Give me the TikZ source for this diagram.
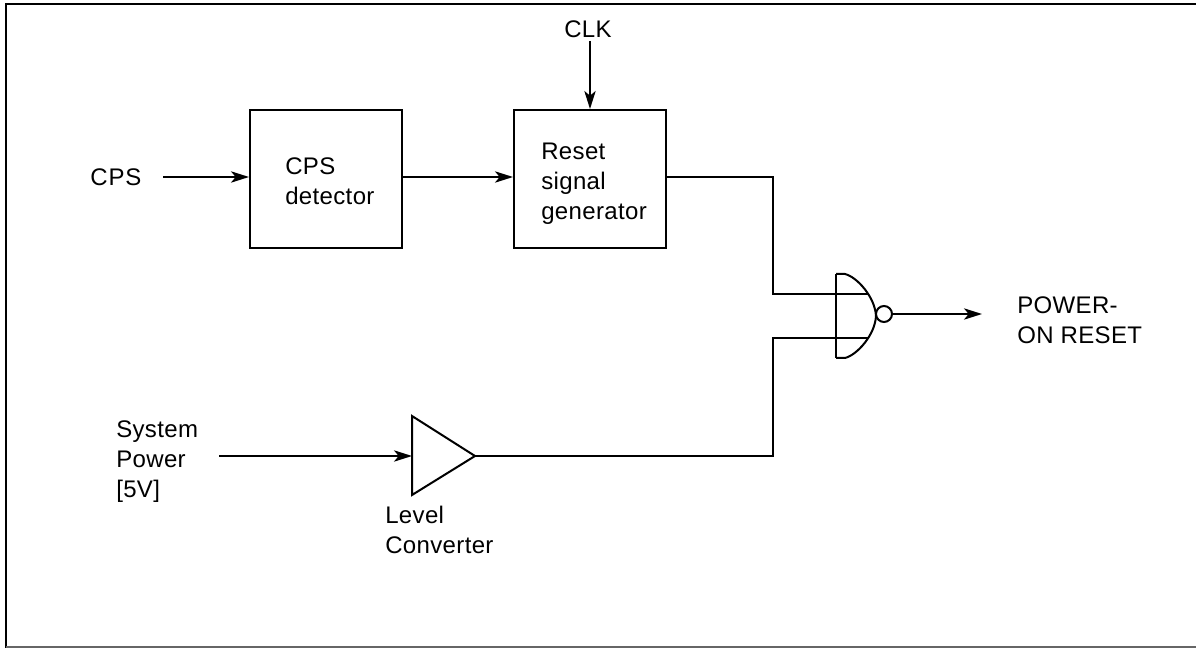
\documentclass[tikz,border=0pt]{standalone}
\usepackage{fontspec}
\setmainfont[LetterSpace=1.5]{Liberation Sans}
\usetikzlibrary{arrows.meta}
\tikzset{
  px/.style={x=0.75pt,y=-0.75pt},
  wire/.style={line width=1.5pt,line join=miter},
  sig/.style={wire,-{Stealth[length=13.5pt,width=8.5pt,inset=3.5pt]}},
  blockbox/.style={draw,line width=1.5pt,rectangle,inner sep=0pt},
  lbl/.style={inner sep=0pt,font=\fontsize{18}{22.5}\selectfont,align=left},
}
\begin{document}
\begin{tikzpicture}[px]
\useasboundingbox (0,0) rectangle (1196,648);
\fill[white] (0,0) rectangle (1196,648);
\draw[line width=1.5pt] (1196,4) -- (6,4) -- (6,648);
\draw[line width=1.2pt,black!60] (6,647) -- (1196,647);
% blocks
\node[blockbox,anchor=north west,minimum width=114pt,minimum height=103.5pt] (det) at (249,109) {};
\node[blockbox,anchor=north west,minimum width=114pt,minimum height=103.5pt] (gen) at (513,109) {};
\node[lbl,anchor=west] (dett) at (285,181) {CPS\\detector};
\node[lbl,anchor=west] (gent) at (541,184) {Reset\\signal\\generator};
\node[lbl,anchor=west] (cps) at (90,177) {\addfontfeature{LetterSpace=4}CPS};
\node[lbl,anchor=center] (clk) at (588,29) {CLK};
\node[lbl,anchor=west] (sys) at (116,462) {System\\Power\\{[5V]}};
\node[lbl,anchor=west] (lvl) at (385,530) {Level\\Converter};
\node[lbl,anchor=west] (por) at (1017,320) {POWER-\\ON RESET};
% level converter
\coordinate (ta) at (412,416);
\coordinate (tb) at (412,495);
\coordinate (tc) at (475,456);
\draw[wire] (ta) -- (tc) -- (tb) -- cycle;
% gate
\coordinate (ga) at (836,274);
\coordinate (gb) at (836,358);
\draw[wire] (ga) -- (gb);
\draw[wire] (ga) -- (845,274) .. controls (857,277) and (875,297) .. (876,316) .. controls (875,335) and (857,355) .. (845,358) -- (gb);
\node[circle,draw,line width=1.5pt,inner sep=0pt,minimum size=12pt] (bub) at (884,314) {};
\coordinate (in1e) at (869,294);
\coordinate (in2e) at (869,338);
% connectors
\coordinate (ml) at (0,177);
\coordinate (cpss) at (163,177);
\coordinate (syss) at (219,456);
\coordinate (port) at (982,314);
\coordinate (clks) at (590,41);
\coordinate (b1) at (773,177);
\coordinate (b2) at (773,294);
\coordinate (b3) at (773,456);
\coordinate (b4) at (773,338);
\draw[sig] (cpss) -- (cpss -| det.west);
\draw[sig] (det.east |- ml) -- (gen.west |- ml);
\draw[sig] (clks) -- (clks |- gen.north);
\draw[wire] (gen.east |- ml) -- (b1) -- (b2) -- (in1e);
\draw[wire] (tc) -- (b3) -- (b4) -- (in2e);
\draw[sig] (syss) -- (ta |- syss);
\draw[sig] (bub.east) -- (port);
\end{tikzpicture}
\end{document}
